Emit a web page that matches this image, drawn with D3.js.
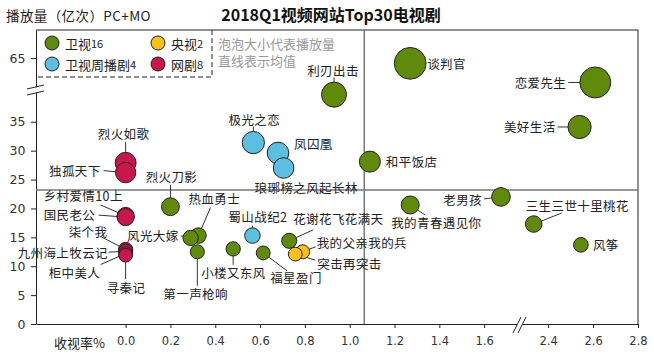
<!DOCTYPE html>
<html>
<head>
<meta charset="utf-8">
<script src="https://cdn.jsdelivr.net/npm/d3@7"></script>
<style>
  body { margin: 0; background: #fff; }
  svg text { font-family: "Noto Sans CJK SC", "Noto Sans", sans-serif; }
  .axis text { font-family: "DejaVu Sans", sans-serif; fill: #333; }
  .axis line, .axis path { stroke: #222; }
</style>
</head>
<body>
<svg id="chart" width="654" height="354"></svg>
<script>
// data
var groups = ["卫视", "卫视周播剧", "央视", "网剧"];
var groupCounts = [16, 4, 2, 8];
var groupColors = ["#5f8a0c", "#5cbfe0", "#f9c01c", "#c8174b"];

var names = [
  "谈判官", "恋爱先生", "利刃出击", "美好生活", "和平饭店", "老男孩", "我的青春遇见你", "三生三世十里桃花",
  "风筝", "烈火刀影", "热血勇士", "风光大嫁", "第一声枪响", "小楼又东风", "福星盈门", "花谢花飞花满天",
  "极光之恋", "凤囚凰", "琅琊榜之风起长林", "蜀山战纪2",
  "我的父亲我的兵", "突击再突击",
  "烈火如歌", "独孤天下", "乡村爱情10上", "国民老公", "柒个我", "九州海上牧云记", "柜中美人", "寻秦记"
];
var kinds = [0,0,0,0,0,0,0,0,0,0,0,0,0,0,0,0, 1,1,1,1, 2,2, 3,3,3,3,3,3,3,3];
var ratings = [1.27, 2.61, 0.93, 2.54, 1.09, 1.675, 1.27, 2.336, 2.546, 0.20, 0.325, 0.29, 0.32, 0.48, 0.614, 0.73,
  0.57, 0.68, 0.705, 0.566,
  0.79, 0.757,
  0, 0, 0, 0, 0, 0, 0, 0];
var plays = [64.1, 60.8, 39.7, 34.1, 28.1, 22.0, 20.6, 17.3, 13.7, 20.3, 15.3, 14.9, 12.5, 13.0, 12.3, 14.4,
  31.4, 29.6, 27.0, 15.3,
  12.5, 12.1,
  27.9, 26.2, 18.7, 18.5, 12.9, 12.6, 12.2, 11.9];
var meanRating = 1.065;
var meanPlays = 23.2;

var xTicks = [0, 0.2, 0.4, 0.6, 0.8, 1.0, 1.2, 1.4, 1.6, 2.4, 2.6, 2.8];
var yTicks = [0, 5, 10, 15, 20, 25, 30, 35, 65];

// label layout: [dx, dy, anchor, leaderX, leaderY] relative to bubble centre (px)
var labelPos = {
  "谈判官": [17, 0, "start"],
  "恋爱先生": [-29, 0, "end", -27, 0],
  "利刃出击": [-1, -24, "middle", 0, -17],
  "美好生活": [-24, 0, "end", -22, 0],
  "和平饭店": [16, 0, "start"],
  "老男孩": [-19, 3, "end", -17, 2],
  "我的青春遇见你": [-19, 18, "start", 15, 10],
  "三生三世十里桃花": [-8, -19, "start", 28, -11],
  "风筝": [12, 0, "start"],
  "烈火刀影": [1, -30, "middle", 0, -22],
  "热血勇士": [-10, -37, "start", 12, -28],
  "风光大嫁": [-12, -2, "end", -10, -2],
  "第一声枪响": [-34, 42, "start", 0, 34],
  "小楼又东风": [-32, 24, "start", 0, 16],
  "福星盈门": [7, 25, "start", 24, 18],
  "花谢花飞花满天": [4, -22, "start", 24, -11],
  "极光之恋": [1, -23, "middle", 0, -16],
  "凤囚凰": [16, -9, "start"],
  "琅琊榜之风起长林": [-29, 19, "start"],
  "蜀山战纪2": [-24, -19, "start", 0, -10],
  "我的父亲我的兵": [14, -9, "start", 13, -5],
  "突击再突击": [22, 9, "start", 20, 6],
  "烈火如歌": [-2, -29, "middle", 0, -21],
  "独孤天下": [-25, -2, "end", -22, -2],
  "乡村爱情10上": [-82, -20, "start", -25, -11],
  "国民老公": [-82, -3, "start", -27, -2],
  "柒个我": [-57, -18, "start", -25, -13],
  "九州海上牧云记": [-108, 1, "start", -17, 1],
  "柜中美人": [-77, 19, "start", -25, 11],
  "寻秦记": [-19, 32, "start", 0, 24]
};

var svg = d3.select("#chart");
var plotL = 36, plotR = 638, plotT = 30, plotB = 324, xBreak = 520, yBreak = 90;

// broken axes: two linear pieces each
var x = d3.scaleLinear().domain([-0.4, 1.76, 2.275, 2.8]).range([plotL, xBreak, xBreak, plotR]);
var y = d3.scaleLinear().domain([0, 40.5, 59.5, 69.85]).range([plotB, yBreak, yBreak, plotT]);
var r = d3.scaleSqrt().domain([0, 65]).range([0, 16]);

var rows = names.map(function (n, i) {
  return { name: n, kind: kinds[i], rating: ratings[i], plays: plays[i] };
});

// title and axis titles
svg.append("text").attr("x", 331).attr("y", 21).attr("text-anchor", "middle")
  .style("font-size", "16px").style("font-weight", "bold").attr("fill", "#111")
  .text("2018Q1视频网站Top30电视剧");
svg.append("text").attr("x", 6).attr("y", 21)
  .style("font-size", "13.5px").style("letter-spacing", "0.4px").attr("fill", "#222")
  .text("播放量（亿次）PC+MO");
svg.append("text").attr("x", 105).attr("y", 348).attr("text-anchor", "end")
  .style("font-size", "13px").attr("fill", "#222")
  .text("收视率%");

// frame top / right
svg.append("path").attr("d", "M" + plotL + "," + plotT + "H" + plotR + "V" + plotB)
  .attr("fill", "none").attr("stroke", "#222");

// axes
var gx = svg.append("g").attr("class", "axis").attr("transform", "translate(0," + plotB + ")")
  .call(d3.axisBottom(x).tickValues(xTicks).tickFormat(d3.format(".1f")).tickSize(4).tickSizeOuter(0));
gx.selectAll("text").style("font-size", "11.5px").attr("dy", "1.2em");
var gy = svg.append("g").attr("class", "axis").attr("transform", "translate(" + plotL + ",0)")
  .call(d3.axisLeft(y).tickValues(yTicks).tickSize(5).tickSizeOuter(0));
gy.selectAll("text").style("font-size", "12.5px").attr("dx", "-0.2em");

// break marks
function breakMark(cx, cy, horizontal) {
  var g = svg.append("g");
  if (horizontal) {
    g.append("polygon").attr("points", [[cx - 7, cy + 6], [cx + 1, cy - 6], [cx + 6, cy - 6], [cx - 2, cy + 6]].join(" "))
      .attr("fill", "#fff");
    g.append("line").attr("x1", cx - 7).attr("y1", cy + 8).attr("x2", cx + 1).attr("y2", cy - 8).attr("stroke", "#222");
    g.append("line").attr("x1", cx - 2).attr("y1", cy + 8).attr("x2", cx + 6).attr("y2", cy - 8).attr("stroke", "#222");
  } else {
    g.append("polygon").attr("points", [[cx - 6, cy - 1], [cx + 6, cy - 4], [cx + 6, cy + 1], [cx - 6, cy + 4]].join(" "))
      .attr("fill", "#fff");
    g.append("line").attr("x1", cx - 9).attr("y1", cy - 1).attr("x2", cx + 8).attr("y2", cy - 5).attr("stroke", "#222");
    g.append("line").attr("x1", cx - 9).attr("y1", cy + 5).attr("x2", cx + 8).attr("y2", cy + 1).attr("stroke", "#222");
  }
}
breakMark(xBreak, plotB + 1, true);
breakMark(plotL, yBreak, false);

// mean lines
svg.append("line").attr("x1", plotL).attr("x2", plotR).attr("y1", y(meanPlays)).attr("y2", y(meanPlays))
  .attr("stroke", "#777").attr("stroke-width", 1.5);
svg.append("line").attr("x1", x(meanRating)).attr("x2", x(meanRating)).attr("y1", plotT).attr("y2", plotB)
  .attr("stroke", "#777").attr("stroke-width", 1.5);

// leader lines and labels
rows.forEach(function (d) {
  var p = labelPos[d.name], cx = x(d.rating), cy = y(d.plays), rr = r(d.plays);
  if (p.length > 3) {
    var len = Math.sqrt(p[3] * p[3] + p[4] * p[4]);
    if (len > rr) {
      svg.append("line")
        .attr("x1", cx + p[3] * rr / len).attr("y1", cy + p[4] * rr / len)
        .attr("x2", cx + p[3]).attr("y2", cy + p[4])
        .attr("stroke", "#333").attr("stroke-width", 1);
    }
  }
  svg.append("text").attr("x", cx + p[0]).attr("y", cy + p[1])
    .attr("text-anchor", p[2]).attr("dominant-baseline", "central")
    .style("font-size", "12.5px").style("letter-spacing", "0.4px").attr("fill", "#222")
    .text(d.name);
});

// bubbles, big first so small ones sit on top
svg.append("g").selectAll("circle")
  .data(rows.slice().sort(function (a, b) { return b.plays - a.plays; }))
  .enter().append("circle")
  .attr("cx", function (d) { return x(d.rating); })
  .attr("cy", function (d) { return y(d.plays); })
  .attr("r", function (d) { return r(d.plays); })
  .attr("fill", function (d) { return groupColors[d.kind]; })
  .attr("stroke", "#222").attr("stroke-width", 1);

// legend
svg.append("path").attr("d", "M212," + plotT + "V77H" + plotL)
  .attr("fill", "none").attr("stroke", "#222").attr("stroke-dasharray", "5,3");
var legPos = [[52, 43], [52, 64], [158, 43], [158, 64]];
groups.forEach(function (g, i) {
  var lg = svg.append("g").attr("transform", "translate(" + legPos[i][0] + "," + legPos[i][1] + ")");
  lg.append("circle").attr("r", 7).attr("fill", groupColors[i]).attr("stroke", "#222");
  var t = lg.append("text").attr("x", 13).attr("dominant-baseline", "central")
    .style("font-size", "13px").attr("fill", "#222");
  t.append("tspan").text(g);
  t.append("tspan").style("font-size", "11px").text(groupCounts[i]);
});
svg.append("text").attr("x", 218).attr("y", 43).attr("dominant-baseline", "central")
  .style("font-size", "13px").attr("fill", "#999").text("泡泡大小代表播放量");
svg.append("text").attr("x", 218).attr("y", 60).attr("dominant-baseline", "central")
  .style("font-size", "13px").attr("fill", "#999").text("直线表示均值");
</script>
</body>
</html>
